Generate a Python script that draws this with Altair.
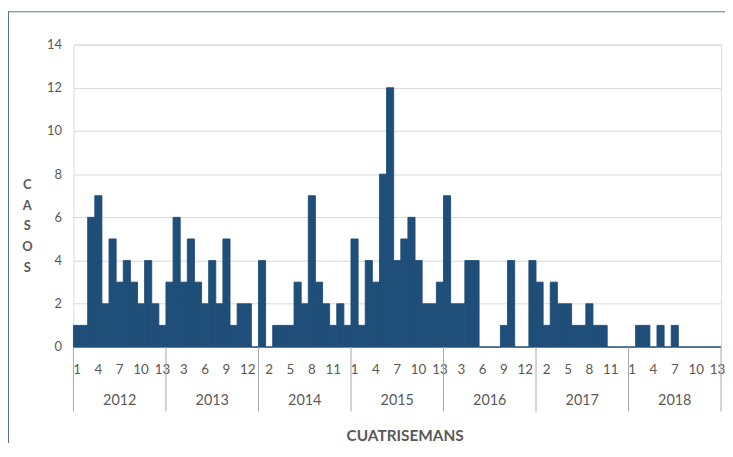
import altair as alt
import pandas as pd

years = ["2012", "2013", "2014", "2015", "2016", "2017", "2018"]
periods = list(range(1, 14))
cases_2012 = [1, 1, 6, 7, 2, 5, 3, 4, 3, 2, 4, 2, 1]
cases_2013 = [3, 6, 3, 5, 3, 2, 4, 2, 5, 1, 2, 2, 0]
cases_2014 = [4, 0, 1, 1, 1, 3, 2, 7, 3, 2, 1, 2, 1]
cases_2015 = [5, 1, 4, 3, 8, 12, 4, 5, 6, 4, 2, 2, 3]
cases_2016 = [7, 2, 2, 4, 4, 0, 0, 0, 1, 4, 0, 0, 4]
cases_2017 = [3, 1, 3, 2, 2, 1, 1, 2, 1, 1, 0, 0, 0]
cases_2018 = [0, 1, 1, 0, 1, 0, 1, 0, 0, 0, 0, 0, 0]
all_cases = [cases_2012, cases_2013, cases_2014, cases_2015, cases_2016, cases_2017, cases_2018]

rows = []
for yi, (yr, vals) in enumerate(zip(years, all_cases)):
    for p, v in zip(periods, vals):
        idx = yi * len(periods) + (p - 1)
        rows.append({"year": yr, "period": p, "casos": v, "x0": idx, "x1": idx + 1,
                     "xc": idx + 0.5, "lab": str(p)})
df = pd.DataFrame(rows)
n = len(df)
np_ = len(periods)
tick_df = df[df["x0"] % 3 == 0]

year_df = pd.DataFrame({"year": years, "center": [i * np_ + np_ / 2 for i in range(len(years))]})
sep_df = pd.DataFrame({"b": [i * np_ for i in range(len(years) + 1)]})

W, H = 653, 305
FONT = "Lato"
GREY = "#595959"
BAR = "#1f4e79"

xscale = alt.Scale(domain=[0, n], nice=False, zero=False)

bars = alt.Chart(df).mark_bar(color=BAR, stroke=BAR, strokeWidth=0.9).encode(
    x=alt.X("x0:Q", scale=xscale,
            axis=alt.Axis(labels=False, grid=False, ticks=False, tickSize=0,
                          domainColor="#a6a6a6",
                          title="CUATRISEMANS", titleFont=FONT, titleFontSize=15.5,
                          titleFontWeight="bold", titleColor=GREY, titleX=334, titleY=89,
                          titleBaseline="middle", titleAlign="center")),
    x2="x1:Q",
    y=alt.Y("casos:Q", scale=alt.Scale(domain=[0, 14], nice=False),
            axis=alt.Axis(values=list(range(0, 15, 2)), grid=True, gridColor="#d9d9d9",
                          ticks=False, tickSize=0, labelPadding=12, domain=False,
                          labelFontSize=13, labelColor=GREY, labelFont=FONT,
                          title=["C", "A", "S", "O", "S"], titleAngle=0, titleFont=FONT,
                          titleFontSize=13, titleFontWeight="bold", titleColor=GREY,
                          titleLineHeight=21, titleX=-47, titleY=141,
                          titleBaseline="middle", titleAlign="center")),
    y2=alt.datum(0),
)

tick_labels = alt.Chart(tick_df).mark_text(font=FONT, fontSize=13.5, color=GREY,
                                           baseline="middle", align="center").encode(
    x=alt.X("xc:Q", scale=xscale),
    y=alt.value(H + 23),
    text="lab:N",
)

year_labels = alt.Chart(year_df).mark_text(font=FONT, fontSize=14.5, color=GREY,
                                           baseline="middle", align="center").encode(
    x=alt.X("center:Q", scale=xscale),
    y=alt.value(H + 55),
    text="year:N",
)

seps = alt.Chart(sep_df).mark_rule(color="#a6a6a6", strokeWidth=1).encode(
    x=alt.X("b:Q", scale=xscale),
    y=alt.value(H),
    y2=alt.value(H + 65),
)

frame_df = pd.DataFrame({"k": [0]})
border_left = alt.Chart(frame_df).mark_rule(color="#5a6f8e", strokeWidth=1).encode(
    x=alt.value(-65.5), y=alt.value(-33), y2=alt.value(H + 120))
border_top = alt.Chart(frame_df).mark_rule(color="#5a6f8e", strokeWidth=1).encode(
    x=alt.value(-66), x2=alt.value(W + 20), y=alt.value(-33))

chart = alt.layer(bars, tick_labels, year_labels, seps, border_left, border_top).properties(
    width=W, height=H,
    autosize=alt.AutoSizeParams(type="none"),
    padding={"left": 66, "top": 35, "right": 4, "bottom": 95},
).configure_view(stroke="#a6a6a6", strokeWidth=1).configure(background="white")

chart.save("out.html", embed_options={"renderer": "svg", "actions": False})
